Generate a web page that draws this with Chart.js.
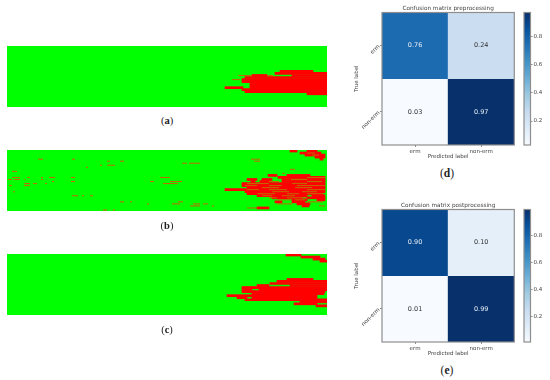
<!DOCTYPE html>
<html>
<head>
<meta charset="utf-8">
<script src="https://cdn.jsdelivr.net/npm/chart.js@4"></script>
<style>
    body { margin: 0; background: #fff; overflow: hidden; }
    canvas { position: absolute; filter: blur(0.35px); }
    .cap { position: absolute; width: 40px; margin-left: -20px; text-align: center; font: 10.5px "Liberation Serif", serif; color: #222; line-height: 12px; }
    .cap.big { font-size: 11.5px; }
    .cap b { font-weight: bold; }
</style>
</head>
<body>
<canvas id="strip_a" style="left:7px;top:46px" width="320" height="61"></canvas>
<canvas id="strip_b" style="left:7px;top:150px" width="320" height="61"></canvas>
<canvas id="strip_c" style="left:7px;top:254px" width="320" height="61"></canvas>
<canvas id="cm_d" style="left:350px;top:0" width="172" height="165"></canvas>
<canvas id="bar_d" style="left:520px;top:0" width="30" height="165"></canvas>
<canvas id="cm_e" style="left:350px;top:197px" width="172" height="165"></canvas>
<canvas id="bar_e" style="left:520px;top:197px" width="30" height="165"></canvas>
<div class="cap" style="left:167px;top:115px">(<b>a</b>)</div>
<div class="cap" style="left:167px;top:220px">(<b>b</b>)</div>
<div class="cap" style="left:167px;top:324px">(<b>c</b>)</div>
<div class="cap big" style="left:447px;top:167px">(<b>d</b>)</div>
<div class="cap big" style="left:447px;top:364px">(<b>e</b>)</div>

<script>
    // [row, from, to] runs, row 0 is the top of the strip
    const redA = [
        [12,273,306],[13,268,320],[14,245,260],[14,285,320],[15,238,320],[16,235,320],[17,235,320],
        [18,243,320],[19,243,320],[20,218,236],[20,243,320],[21,235,320],[22,238,320],[23,300,320]
    ]
    const oliveA = [[14,231,245],[14,260,266],[16,225,233]]

    const redB = [
        [0,283,290],[0,300,310],[1,293,314],[2,298,318],[3,308,318],[4,313,316],
        [12,261,270],[12,280,303],[13,271,318],[14,240,250],[14,255,265],[14,275,318],[15,244,248],[15,253,263],[15,275,318],
        [16,235,318],[17,235,318],[18,240,318],[19,218,318],[20,238,318],[21,240,316],
        [22,250,300],[22,305,318],[23,265,295],[23,300,318],[24,285,300],[24,310,318],
        [25,268,275],[25,285,298],[26,290,303],[27,295,302],[28,250,262]
    ]
    const oliveB = [
        [1,300,308],[2,305,312],[5,113,117],[6,175,180],[6,182,193],[4,31,36],[4,65,68],[5,100,103],[7,100,108],[29,96,100],
        [13,153,163],[16,156,171],[4,244,253],[5,247,253],[7,93,95],[8,79,81],[9,283,288],
        [10,5,10],[13,5,13],[13,20,23],[13,34,36],[13,42,48],[13,64,68],[14,1,5],[14,7,13],[14,17,18],[14,34,36],
        [15,45,47],[15,64,68],[15,143,147],[15,163,175],[16,17,23],[16,26,30],[16,38,40],[16,241,248],
        [17,2,5],[17,17,23],[20,6,8],[22,65,71],[22,75,77],[22,83,86],[25,113,117],[25,123,125],[25,171,176],
        [26,140,142],[26,165,173],[26,186,193],[26,196,201],[27,183,193],[27,205,207],[29,106,108],
        [11,275,278],[13,300,318],[14,284,300],[15,300,315],[15,262,272],[16,240,262],[16,285,300],[17,290,318],[17,238,250],[17,262,275],
        [18,255,272],[18,288,305],[19,240,252],[19,300,318],[19,262,280],[20,265,282],[20,295,310],[21,250,268],[21,300,316],[21,280,292],
        [22,275,288],[22,255,265],[23,280,300],[23,262,270],[24,270,284],[24,288,298],[25,300,316],[26,270,285],[27,312,318],[28,240,250]
    ]

    const redC = [
        [0,279,294],[1,294,313],[2,306,318],[3,313,320],[12,280,306],[13,270,320],[14,263,320],[15,250,262],
        [15,283,320],[16,235,246],[16,245,320],[17,235,245],[17,252,320],[18,235,318],[19,245,317],
        [20,220,246],[20,245,310],[21,230,240],[21,245,310],[22,238,320],[23,293,320],[24,287,310],[25,309,320]
    ]
    const oliveC = []

    const stripRows = Array.from({length: 30}, (_, i) => i)
    const stripColumns = 320

    const cmLabels = ["erm", "non-erm"]
    const cmPre = [[0.76, 0.24], [0.03, 0.97]]
    const cmPost = [[0.90, 0.10], [0.01, 0.99]]
    const barTicks = [0.2, 0.4, 0.6, 0.8]

    const GREY = "#8e8e8e"
    const TXT = "#444"
    const FONT = "'DejaVu Sans'"
    const blues = ["#f7fbff", "#deebf7", "#c6dbef", "#9ecae1", "#6baed6", "#4292c6", "#2171b5", "#08519c", "#08306b"]

    const hex = (c) => [1, 3, 5].map((i) => parseInt(c.substr(i, 2), 16))
    const bluesAt = (t) => {
        const p = Math.min(Math.max(t, 0), 1) * (blues.length - 1)
        const i = Math.min(Math.floor(p), blues.length - 2)
        const a = hex(blues[i])
        const b = hex(blues[i + 1])
        const m = a.map((v, k) => Math.round(v + (b[k] - v) * (p - i)))
        return `rgb(${m[0]},${m[1]},${m[2]})`
    }

    const toBars = (runs) => runs.map((r) => ({y: r[0], x: [r[1], r[2]]}))

    const drawStrip = (id, red, olive) => {
        new Chart(document.getElementById(id), {
            type: "bar",
            data: {
                labels: stripRows,
                datasets: [
                    {label: "mixed", data: toBars(olive), backgroundColor: "#c06a00", order: 1, barPercentage: 0.5},
                    {label: "erm", data: toBars(red), backgroundColor: "#ff0000", order: 2, barPercentage: 1},
                    {
                        label: "non-erm", data: stripRows.map((r) => ({y: r, x: [0, stripColumns]})),
                        backgroundColor: "#00ff00", order: 3, barPercentage: 1, inflateAmount: 1
                    }
                ]
            },
            options: {
                indexAxis: "y",
                responsive: false,
                animation: false,
                datasets: {bar: {grouped: false, categoryPercentage: 1}},
                plugins: {legend: {display: false}, tooltip: {enabled: false}},
                scales: {
                    x: {display: false, min: 0, max: stripColumns},
                    y: {display: false}
                }
            }
        })
    }

    const framePlugin = {
        id: "frame",
        afterDraw: (chart) => {
            const a = chart.chartArea
            const ctx = chart.ctx
            ctx.save()
            ctx.strokeStyle = GREY
            ctx.lineWidth = 1.2
            ctx.strokeRect(a.left, a.top, a.right - a.left, a.bottom - a.top)
            ctx.restore()
        }
    }

    const drawMatrix = (id, title, values) => {
        const all = values.flat()
        const lo = Math.min(...all)
        const hi = Math.max(...all)
        const cellText = {
            id: "cellText",
            afterDatasetsDraw: (chart) => {
                const ctx = chart.ctx
                ctx.save()
                ctx.font = `6.5px ${FONT}`
                ctx.textAlign = "center"
                ctx.textBaseline = "middle"
                values.forEach((row, i) => row.forEach((v, j) => {
                    ctx.fillStyle = v > (hi + lo) / 2 ? "#e8eef5" : "#333"
                    ctx.fillText(v.toFixed(2), chart.scales.x.getPixelForValue(j), chart.scales.y.getPixelForValue(i + 0.5))
                }))
                ctx.restore()
            }
        }
        new Chart(document.getElementById(id), {
            type: "bar",
            data: {
                labels: cmLabels,
                datasets: values.map((row, i) => ({
                    label: cmLabels[i],
                    data: row.map(() => [i, i + 1]),
                    backgroundColor: row.map((v) => bluesAt((v - lo) / (hi - lo))),
                    grouped: false, barPercentage: 1, categoryPercentage: 1
                }))
            },
            options: {
                responsive: false,
                animation: false,
                layout: {padding: {right: 7.7}},
                plugins: {
                    legend: {display: false},
                    tooltip: {enabled: false},
                    title: {
                        display: true, text: title, color: TXT, fullSize: false,
                        font: {family: FONT, size: 5.75, weight: "normal", lineHeight: 1.2},
                        padding: {top: 5.5, bottom: 0.1}
                    }
                },
                scales: {
                    x: {
                        grid: {offset: false, drawOnChartArea: false, tickLength: 2, tickColor: GREY},
                        border: {display: false},
                        ticks: {color: TXT, font: {family: FONT, size: 5.5}, maxRotation: 0, padding: 1},
                        title: {display: true, text: "Predicted label", color: TXT, font: {family: FONT, size: 5.5}, padding: {top: 0, bottom: 5}},
                        afterFit: (s) => { s.height = 20 }
                    },
                    y: {
                        reverse: true, min: 0, max: 2,
                        afterBuildTicks: (s) => { s.ticks = [{value: 0.5}, {value: 1.5}] },
                        grid: {drawOnChartArea: false, tickLength: 2, tickColor: GREY},
                        border: {display: false},
                        ticks: {
                            color: TXT, font: {family: FONT, size: 5.5}, minRotation: 45, maxRotation: 45, padding: 1,
                            callback: (v) => cmLabels[Math.floor(v)]
                        },
                        title: {display: true, text: "True label", color: TXT, font: {family: FONT, size: 5.5}, padding: {top: 3, bottom: 0}},
                        afterFit: (s) => { s.width = 32 }
                    }
                }
            },
            plugins: [cellText, framePlugin]
        })
    }

    const drawColorbar = (id, values) => {
        const all = values.flat()
        const lo = Math.min(...all)
        const hi = Math.max(...all)
        new Chart(document.getElementById(id), {
            type: "bar",
            data: {
                labels: [""],
                datasets: [{
                    data: [[lo, hi]],
                    barPercentage: 1, categoryPercentage: 1,
                    backgroundColor: (c) => {
                        const a = c.chart.chartArea
                        if (!a) return blues[4]
                        const g = c.chart.ctx.createLinearGradient(0, a.bottom, 0, a.top)
                        blues.forEach((b, i) => g.addColorStop(i / (blues.length - 1), b))
                        return g
                    }
                }]
            },
            options: {
                responsive: false,
                animation: false,
                layout: {padding: {left: 4, top: 12.5, bottom: 20}},
                plugins: {legend: {display: false}, tooltip: {enabled: false}},
                scales: {
                    x: {display: false},
                    y: {
                        position: "right", min: lo, max: hi,
                        afterBuildTicks: (s) => { s.ticks = barTicks.map((v) => ({value: v})) },
                        grid: {drawOnChartArea: false, tickLength: 2, tickColor: GREY},
                        border: {display: false},
                        ticks: {color: TXT, font: {family: FONT, size: 5.5}, padding: 1, callback: (v) => v.toFixed(1)},
                        afterFit: (s) => { s.width = 19.5 }
                    }
                }
            },
            plugins: [framePlugin]
        })
    }

    drawStrip("strip_a", redA, oliveA)
    drawStrip("strip_b", redB, oliveB)
    drawStrip("strip_c", redC, oliveC)
    drawMatrix("cm_d", "Confusion matrix preprocessing", cmPre)
    drawMatrix("cm_e", "Confusion matrix postprocessing", cmPost)
    drawColorbar("bar_d", cmPre)
    drawColorbar("bar_e", cmPost)
</script>
</body>
</html>
